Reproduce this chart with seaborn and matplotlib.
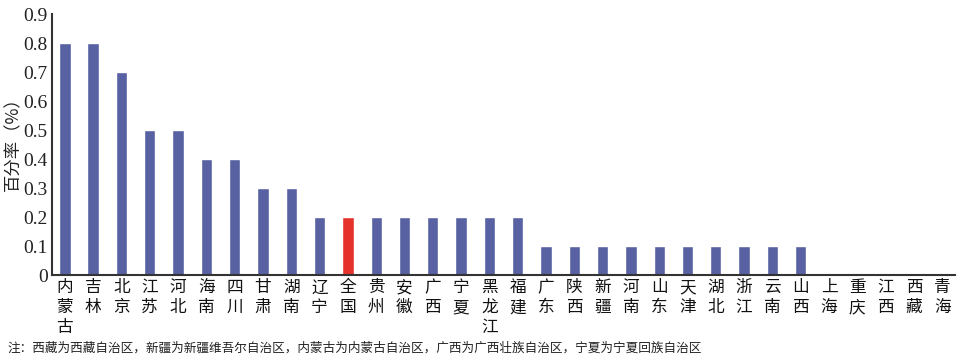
import matplotlib
matplotlib.use("Agg")
import matplotlib.pyplot as plt
import seaborn as sns
import pandas as pd

regions = ["内蒙古", "吉林", "北京", "江苏", "河北", "海南", "四川", "甘肃", "湖南", "辽宁",
           "全国", "贵州", "安徽", "广西", "宁夏", "黑龙江", "福建", "广东", "陕西", "新疆",
           "河南", "山东", "天津", "湖北", "浙江", "云南", "山西", "上海", "重庆", "江西",
           "西藏", "青海"]
rates = [0.8, 0.8, 0.7, 0.5, 0.5, 0.4, 0.4, 0.3, 0.3, 0.2,
         0.2, 0.2, 0.2, 0.2, 0.2, 0.2, 0.2, 0.1, 0.1, 0.1,
         0.1, 0.1, 0.1, 0.1, 0.1, 0.1, 0.1, 0.0, 0.0, 0.0,
         0.0, 0.0]
yticks = [0, 0.1, 0.2, 0.3, 0.4, 0.5, 0.6, 0.7, 0.8, 0.9]
ylabel = "百分率（%）"
note = "注：西藏为西藏自治区，新疆为新疆维吾尔自治区，内蒙古为内蒙古自治区，广西为广西壮族自治区，宁夏为宁夏回族自治区"

sns.set_style("white")
plt.rcParams['font.family'] = ['Noto Sans CJK SC', 'DejaVu Sans']

df = pd.DataFrame({"region": regions, "rate": rates})
palette = {r: ("#e5322b" if r == "全国" else "#5861a1") for r in regions}

fig = plt.figure(figsize=(9.6, 3.61), dpi=100)
ax = fig.add_axes([0.054, 0.238, 0.941, 0.723])
sns.barplot(data=df, x="region", y="rate", hue="region", palette=palette,
            legend=False, width=0.4, ax=ax, saturation=1)

ax.set_xlim(-0.46, len(regions) - 0.54)
ax.set_ylim(0, 0.9)
ax.set_yticks(yticks)
ax.set_yticklabels(["0" if v == 0 else f"{v:.1f}" for v in yticks],
                   family=["Liberation Serif"], fontsize=14)
ax.set_xticks(range(len(regions)))
ax.set_xticklabels(["\n".join(r) for r in regions], fontsize=12, linespacing=1.22,
                   va="top", color="#111111")
ax.tick_params(axis="y", direction="in", length=4, width=1.2, color="#333333", pad=3,
               labelcolor="#222222")
ax.tick_params(axis="x", length=0, pad=3)
ax.set_xlabel("")
ax.set_ylabel(ylabel, fontsize=12.5, color="#222222")
ax.yaxis.set_label_coords(-0.033, 0.52)
for s in ["top", "right"]:
    ax.spines[s].set_visible(False)
for s in ["left", "bottom"]:
    ax.spines[s].set_color("#333333")
    ax.spines[s].set_linewidth(1.5)

fig.text(0.008, 0.035, note, fontsize=9.1, ha="left", va="center", color="#222222")

fig.savefig("out.png", dpi=100)
